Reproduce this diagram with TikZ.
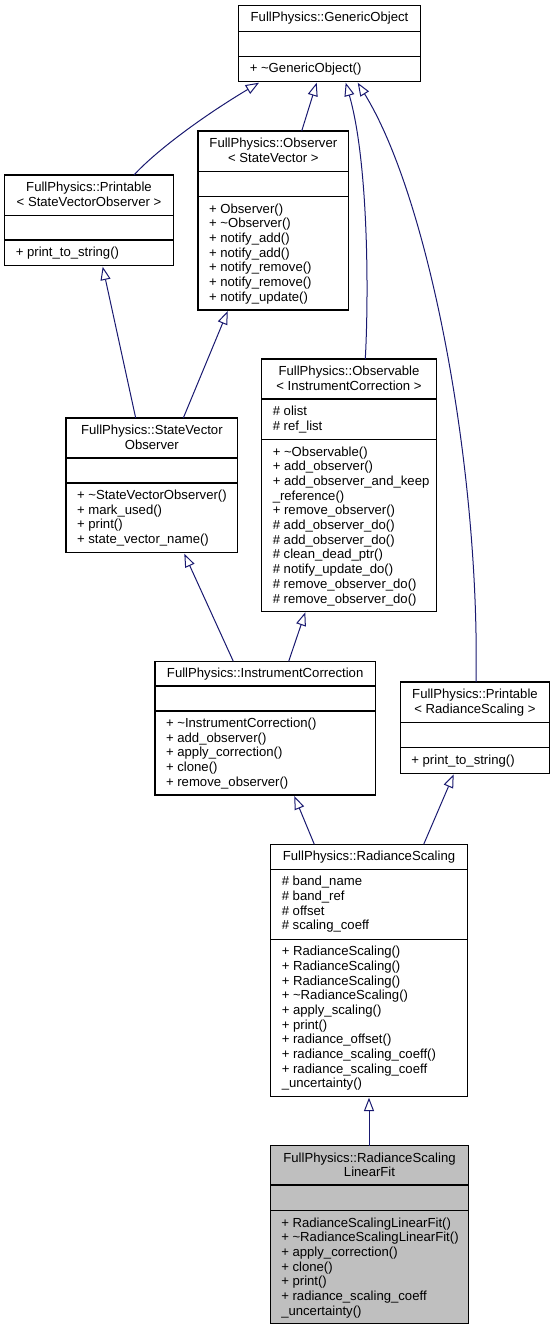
\documentclass[tikz,border=0pt]{standalone}
\usepackage{fontspec}
\setmainfont{Liberation Sans}
\usetikzlibrary{arrows.meta}
\definecolor{edgeblue}{HTML}{191970}
\definecolor{mainfill}{HTML}{BFBFBF}
\tikzset{
  boxframe/.style={draw=black, line width=0.8pt, fill=white},
  mainframe/.style={draw=black, line width=0.8pt, fill=mainfill},
  sepline/.style={draw=black, line width=0.8pt},
  txt/.style={inner sep=0pt, font=\fontsize{9.85}{11}\selectfont},
  inh/.style={draw=edgeblue, line width=0.75pt,
    -{Triangle[open, length=10pt, width=7.5pt, fill=white]}},
}
% name, x1, x2, ytop, ysep1, ysep2, ybottom, style
\newcommand\umlbox[8]{%
  \draw[#8] (#2,#4) rectangle (#3,#7);
  \draw[sepline] (#2,#5) -- (#3,#5) (#2,#6) -- (#3,#6);
  \coordinate (#1) at ({(#2+#3)/2},#4);
}
% name, x, first baseline, list
\newcommand\titlelines[4]{%
  \foreach \t [count=\i from 0] in {#4}
    \node[txt, anchor=base] (#1-\i) at ({#2},{#3+14.7*\i}) {\t};
}
\newcommand\leftlines[4]{%
  \foreach \t [count=\i from 0] in {#4}
    \node[txt, anchor=base west] (#1-\i) at ({#2},{#3+14.7*\i}) {\t};
}
\begin{document}
\begin{tikzpicture}[x=0.75pt, y=-0.75pt]
\useasboundingbox (0,0) rectangle (555,1331);

% GenericObject
\umlbox{go}{238.7}{420.3}{5.7}{31.7}{56.7}{81.7}{boxframe}
\titlelines{go-t}{329.5}{22}{FullPhysics::GenericObject}
\leftlines{go-m}{249.5}{73}{+ \textasciitilde{}GenericObject()}

% Printable<StateVectorObserver>
\umlbox{psvo}{4.7}{173.3}{175}{215.3}{240}{265.7}{boxframe}
\titlelines{psvo-t}{89}{191.3}{FullPhysics::Printable, < StateVectorObserver >}
\leftlines{psvo-m}{15.5}{256.3}{+ print\_to\_string()}

% Observer<StateVector>
\umlbox{osv}{198}{348.7}{131}{171.7}{196.7}{310}{boxframe}
\titlelines{osv-t}{273.35}{147.3}{FullPhysics::Observer, < StateVector >}
\leftlines{osv-m}{208.8}{213}{+ Observer(), + \textasciitilde{}Observer(), + notify\_add(), + notify\_add(), + notify\_remove(), + notify\_remove(), + notify\_update()}

% StateVectorObserver
\umlbox{svo}{66}{237.7}{418}{458}{483}{552.7}{boxframe}
\titlelines{svo-t}{151.85}{434.3}{FullPhysics::StateVector, Observer}
\leftlines{svo-m}{76.8}{499.3}{+ \textasciitilde{}StateVectorObserver(), + mark\_used(), + print(), + state\_vector\_name()}

% Observable<InstrumentCorrection>
\umlbox{oic}{261.7}{436.3}{359}{399}{439.7}{611.3}{boxframe}
\titlelines{oic-t}{349}{375.3}{FullPhysics::Observable, < InstrumentCorrection >}
\leftlines{oic-a}{272.5}{415.3}{\# olist, \# ref\_list}
\leftlines{oic-m}{272.5}{456}{+ \textasciitilde{}Observable(), + add\_observer(), + add\_observer\_and\_keep, \_reference(), + remove\_observer(), \# add\_observer\_do(), \# add\_observer\_do(), \# clean\_dead\_ptr(), \# notify\_update\_do(), \# remove\_observer\_do(), \# remove\_observer\_do()}

% InstrumentCorrection
\umlbox{ic}{155}{375.3}{661.3}{686}{711}{795}{boxframe}
\titlelines{ic-t}{265.15}{677.6}{FullPhysics::InstrumentCorrection}
\leftlines{ic-m}{165.8}{727.3}{+ \textasciitilde{}InstrumentCorrection(), + add\_observer(), + apply\_correction(), + clone(), + remove\_observer()}

% Printable<RadianceScaling>
\umlbox{prs}{400.3}{549.7}{682}{722.7}{747.7}{773.3}{boxframe}
\titlelines{prs-t}{475}{698.3}{FullPhysics::Printable, < RadianceScaling >}
\leftlines{prs-m}{411.1}{764}{+ print\_to\_string()}

% RadianceScaling
\umlbox{rs}{270.7}{467.3}{844.3}{869.3}{939.3}{1096.7}{boxframe}
\titlelines{rs-t}{369}{860.6}{FullPhysics::RadianceScaling}
\leftlines{rs-a}{281.5}{885.6}{\# band\_name, \# band\_ref, \# offset, \# scaling\_coeff}
\leftlines{rs-m}{281.5}{955.6}{+ RadianceScaling(), + RadianceScaling(), + RadianceScaling(), + \textasciitilde{}RadianceScaling(), + apply\_scaling(), + print(), + radiance\_offset(), + radiance\_scaling\_coeff(), + radiance\_scaling\_coeff, \_uncertainty()}

% RadianceScalingLinearFit
\umlbox{rslf}{270.2}{468.8}{1145.7}{1185}{1210.7}{1323.3}{mainframe}
\titlelines{rslf-t}{369.5}{1162}{FullPhysics::RadianceScaling, LinearFit}
\leftlines{rslf-m}{281}{1227}{+ RadianceScalingLinearFit(), + \textasciitilde{}RadianceScalingLinearFit(), + apply\_correction(), + clone(), + print(), + radiance\_scaling\_coeff, \_uncertainty()}

% connector end points
\coordinate (go-a) at (259,82.7);
\coordinate (go-b) at (316.7,82.7);
\coordinate (go-c) at (345.7,82.7);
\coordinate (go-d) at (357.7,82.7);
\coordinate (psvo-top) at (134,175);
\coordinate (osv-top) at (301.7,131);
\coordinate (oic-top) at (365.3,359);
\coordinate (prs-top) at (476,682);
\coordinate (psvo-bot) at (102.7,266.7);
\coordinate (osv-bot) at (227.7,311);
\coordinate (svo-top1) at (135.7,418);
\coordinate (svo-top2) at (183.3,418);
\coordinate (svo-bot) at (184.3,553.7);
\coordinate (oic-bot) at (305.3,612.3);
\coordinate (ic-top1) at (233.3,661.3);
\coordinate (ic-top2) at (288.7,661.3);
\coordinate (ic-bot) at (294.3,796);
\coordinate (prs-bot) at (453.7,774.3);
\coordinate (rs-top1) at (314.3,844.3);
\coordinate (rs-top2) at (423.7,844.3);
\coordinate (rs-bot) at (369,1097.7);
\coordinate (rslf-top) at (369,1145.7);

% inheritance connectors
\draw[inh] (psvo-top) .. controls (155,152) and (200,118) .. (go-a);
\draw[inh] (osv-top) -- (go-b);
\draw[inh] (oic-top) .. controls (369,290) and (368,160) .. (go-c);
\draw[inh] (prs-top) .. controls (480,470) and (430,200) .. (go-d);
\draw[inh] (svo-top1) -- (psvo-bot);
\draw[inh] (svo-top2) -- (osv-bot);
\draw[inh] (ic-top1) -- (svo-bot);
\draw[inh] (ic-top2) -- (oic-bot);
\draw[inh] (rs-top1) -- (ic-bot);
\draw[inh] (rs-top2) -- (prs-bot);
\draw[inh] (rslf-top) -- (rs-bot);
\end{tikzpicture}
\end{document}
